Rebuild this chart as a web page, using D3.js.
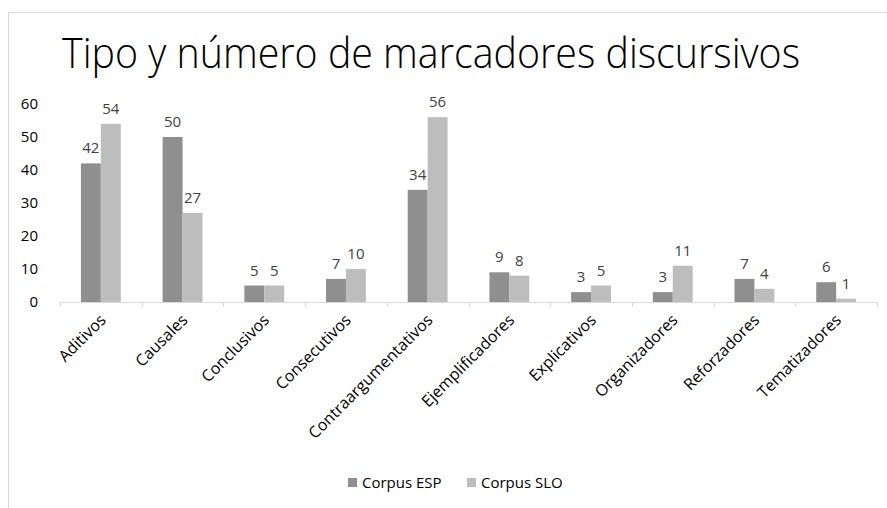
<!DOCTYPE html>
<html lang="es">
  <head>
    <meta charset="utf-8"/>
    <script src="https://d3js.org/d3.v7.min.js"></script>
    <title>Tipo y número de marcadores discursivos</title>
  </head>
  <body>
    <div id="chart_div"><svg id="chart"></svg></div>
  </body>
</html>

<style>
  body { margin: 0; background: #fff; }
  svg { display: block; font-family: "Open Sans", "Noto Sans", sans-serif; }
</style>

<script>
  const width = 887;
  const height = 508;
  const margin = {top: 104, right: 10, bottom: 206, left: 60};

  // datos
  const categories = ["Aditivos", "Causales", "Conclusivos", "Consecutivos", "Contraargumentativos",
    "Ejemplificadores", "Explicativos", "Organizadores", "Reforzadores", "Tematizadores"];
  const corpusEsp = [42, 50, 5, 7, 34, 9, 3, 3, 7, 6];
  const corpusSlo = [54, 27, 5, 10, 56, 8, 5, 11, 4, 1];
  const seriesNames = ["Corpus ESP", "Corpus SLO"];
  const yTicks = [0, 10, 20, 30, 40, 50, 60];

  const colors = ["#8f8f8f", "#bdbdbd"];

  const svg = d3.select("#chart")
    .attr("width", width)
    .attr("height", height);

  // marco del gráfico
  svg.append("rect")
    .attr("x", 8.5)
    .attr("y", 12.5)
    .attr("width", 1000)
    .attr("height", 1000)
    .attr("fill", "none")
    .attr("stroke", "#d9d9d9");

  svg.append("text")
    .attr("x", 62)
    .attr("y", 68)
    .attr("font-size", 42)
    .attr("font-weight", 300)
    .attr("fill", "#000")
    .attr("textLength", 738)
    .attr("lengthAdjust", "spacingAndGlyphs")
    .text("Tipo y número de marcadores discursivos");

  const x0 = d3.scaleBand()
    .domain(categories)
    .range([margin.left, width - margin.right]);

  const x1 = d3.scaleBand()
    .domain(seriesNames)
    .range([0, x0.bandwidth()])
    .paddingOuter(1.05)
    .paddingInner(0);

  const y = d3.scaleLinear()
    .domain([0, 60])
    .range([height - margin.bottom, margin.top]);

  const data = categories.map((c, i) => ({cat: c, values: [corpusEsp[i], corpusSlo[i]]}));

  const groups = svg.append("g")
    .selectAll("g")
    .data(data)
    .join("g")
    .attr("transform", (d) => "translate(" + x0(d.cat) + ",0)");

  groups.selectAll("rect")
    .data((d) => d.values.map((v, j) => ({v: v, s: seriesNames[j], j: j})))
    .join("rect")
    .attr("x", (d) => x1(d.s))
    .attr("y", (d) => y(d.v))
    .attr("width", x1.bandwidth())
    .attr("height", (d) => y(0) - y(d.v))
    .attr("fill", (d) => colors[d.j]);

  groups.selectAll("text.lbl")
    .data((d) => d.values.map((v, j) => ({v: v, s: seriesNames[j]})))
    .join("text")
    .attr("class", "lbl")
    .attr("x", (d) => x1(d.s) + x1.bandwidth() / 2)
    .attr("y", (d) => y(d.v) - 10)
    .attr("text-anchor", "middle")
    .attr("font-size", 15)
    .attr("fill", "#404040")
    .text((d) => d.v);

  // eje x
  const xAxis = svg.append("g");
  xAxis.append("line")
    .attr("x1", margin.left)
    .attr("x2", width - margin.right)
    .attr("y1", y(0) + 0.5)
    .attr("y2", y(0) + 0.5)
    .attr("stroke", "#d9d9d9");
  xAxis.selectAll("line.tick")
    .data(categories.concat([null]))
    .join("line")
    .attr("class", "tick")
    .attr("x1", (d) => Math.round(d === null ? width - margin.right : x0(d)) + 0.5)
    .attr("x2", (d) => Math.round(d === null ? width - margin.right : x0(d)) + 0.5)
    .attr("y1", y(0))
    .attr("y2", y(0) + 5)
    .attr("stroke", "#d9d9d9");

  xAxis.selectAll("text")
    .data(categories)
    .join("text")
    .attr("transform", (d) => "translate(" + (x0(d) + x0.bandwidth() / 2 + 6) + "," + (y(0) + 19) + ") rotate(-45)")
    .attr("text-anchor", "end")
    .attr("font-size", 16)
    .attr("fill", "#000")
    .text((d) => d);

  // eje y
  svg.append("g")
    .selectAll("text")
    .data(yTicks)
    .join("text")
    .attr("x", 38)
    .attr("y", (d) => y(d))
    .attr("dy", "0.35em")
    .attr("text-anchor", "end")
    .attr("font-size", 15)
    .attr("fill", "#000")
    .text((d) => d);

  // leyenda
  const legendX = [348, 467];
  const legend = svg.append("g")
    .selectAll("g")
    .data(seriesNames)
    .join("g")
    .attr("transform", (d, i) => "translate(" + legendX[i] + ",478)");
  legend.append("rect")
    .attr("width", 9)
    .attr("height", 9)
    .attr("fill", (d, i) => colors[i]);
  legend.append("text")
    .attr("x", 14)
    .attr("y", 5)
    .attr("dy", "0.35em")
    .attr("font-size", 15)
    .attr("fill", "#000")
    .text((d) => d);
</script>
